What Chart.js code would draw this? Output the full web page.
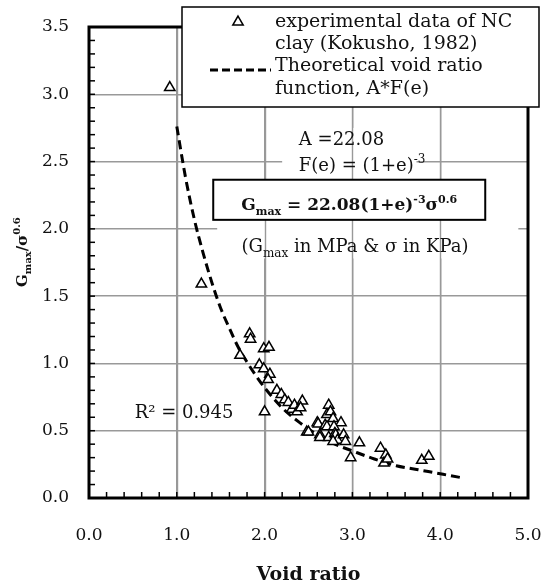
<!DOCTYPE html>
<html>
<head>
<meta charset="utf-8">
<script src="https://cdn.jsdelivr.net/npm/chart.js@4.4.0/dist/chart.umd.min.js"></script>
<style>
html, body { margin: 0; padding: 0; background: #fff; }
#wrap { width: 542px; height: 588px; }
</style>
</head>
<body>
<div id="wrap"><canvas id="gmaxChart" width="542" height="588"></canvas></div>
<script>
// Kokusho (1982) NC clay
var voidRatio = [0.92, 1.28, 1.83, 1.84, 1.72, 1.99, 2.05, 1.94, 1.99, 2.06, 2.04, 2.14, 2.19, 2.23, 2.27, 2.31,
    2.34, 2.37, 2.43, 2.41, 2.00, 2.48, 2.50, 2.60, 2.61, 2.63, 2.63, 2.73, 2.71, 2.75, 2.78, 2.69, 2.71,
    2.87, 2.79, 2.73, 2.80, 2.81, 2.83, 2.90, 2.92, 2.78, 2.98, 3.08, 3.32, 3.38, 3.36, 3.40, 3.79, 3.87];
var gmaxRatio = [3.05, 1.59, 1.22, 1.18, 1.06, 1.11, 1.12, 0.99, 0.96, 0.92, 0.88, 0.80, 0.77, 0.73, 0.71, 0.66,
    0.69, 0.64, 0.72, 0.67, 0.64, 0.49, 0.49, 0.56, 0.55, 0.47, 0.45, 0.69, 0.62, 0.64, 0.59, 0.54, 0.53,
    0.56, 0.53, 0.45, 0.48, 0.47, 0.43, 0.47, 0.42, 0.42, 0.30, 0.41, 0.37, 0.32, 0.26, 0.29, 0.28, 0.31];

// theoretical void ratio function A*F(e)
var curveVoid = [1.0, 1.1, 1.2, 1.3, 1.4, 1.5, 1.6, 1.7, 1.8, 1.9, 2.0, 2.2, 2.4, 2.6, 2.8, 3.0, 3.25, 3.5, 3.75, 4.0, 4.25];
var curveGmax = [2.76, 2.38, 2.07, 1.82, 1.60, 1.41, 1.26, 1.12, 1.01, 0.91, 0.82, 0.67, 0.56, 0.47, 0.40, 0.35, 0.29, 0.24, 0.21, 0.18, 0.15];

var legendLines = ['experimental data of NC', 'clay (Kokusho, 1982)', 'Theoretical void ratio', 'function, A*F(e)'];

var SERIF = '"DejaVu Serif", serif';
var INK = '#111';

function font(size, bold) {
    return (bold ? 'bold ' : '') + size + 'px ' + SERIF;
}

// segments: [text, kind] with kind n = normal, b = subscript, p = superscript
function richWidth(ctx, segs, size, bold) {
    var w = 0;
    segs.forEach(function(s) {
        ctx.font = font(s[1] === 'n' ? size : Math.round(size * 0.66), bold);
        w += ctx.measureText(s[0]).width;
    });
    return w;
}

function drawRich(ctx, segs, x, y, size, bold, center) {
    var cx = center ? x - richWidth(ctx, segs, size, bold) / 2 : x;
    segs.forEach(function(s) {
        ctx.font = font(s[1] === 'n' ? size : Math.round(size * 0.66), bold);
        var dy = s[1] === 'b' ? size * 0.3 : (s[1] === 'p' ? -size * 0.42 : 0);
        ctx.fillText(s[0], cx, y + dy);
        cx += ctx.measureText(s[0]).width;
    });
}

function gridV(chart) {
    var ctx = chart.ctx, a = chart.chartArea, x = chart.scales.x;
    ctx.strokeStyle = '#999';
    ctx.lineWidth = 1.4;
    for (var i = 1; i < 5; i++) {
        var p = Math.round(x.getPixelForValue(i)) + 0.5;
        ctx.beginPath();
        ctx.moveTo(p, a.top);
        ctx.lineTo(p, a.bottom);
        ctx.stroke();
    }
}

var decor = {
    id: 'decor',
    beforeDatasetsDraw: function(chart) {
        var ctx = chart.ctx, x = chart.scales.x, y = chart.scales.y;
        ctx.save();
        // text boxes hide the horizontal grid lines behind them
        ctx.fillStyle = '#fff';
        var l = x.getPixelForValue(2.2), t = y.getPixelForValue(2.75);
        ctx.fillRect(l, t, x.getPixelForValue(3.73) - l, y.getPixelForValue(2.37) - t);
        l = x.getPixelForValue(1.46); t = y.getPixelForValue(2.13);
        ctx.fillRect(l, t, x.getPixelForValue(4.89) - l, y.getPixelForValue(1.78) - t);
        gridV(chart);
        ctx.restore();
    },
    afterDraw: function(chart) {
        var ctx = chart.ctx, a = chart.chartArea, x = chart.scales.x, y = chart.scales.y;
        ctx.save();

        // minor ticks
        ctx.strokeStyle = '#000';
        ctx.lineWidth = 1.5;
        for (var i = 1; i < 35; i++) {
            var py = y.getPixelForValue(i / 10);
            ctx.beginPath(); ctx.moveTo(a.left, py); ctx.lineTo(a.left + 6, py); ctx.stroke();
        }
        for (var j = 1; j < 25; j++) {
            var px = x.getPixelForValue(j / 5);
            ctx.beginPath(); ctx.moveTo(px, a.bottom); ctx.lineTo(px, a.bottom - 6); ctx.stroke();
        }

        // plot frame
        ctx.lineWidth = 3;
        ctx.strokeRect(a.left, a.top, a.right - a.left, a.bottom - a.top);

        ctx.fillStyle = INK;
        ctx.textAlign = 'left';
        ctx.textBaseline = 'alphabetic';

        // A and F(e)
        ctx.font = font(18);
        ctx.fillText('A =22.08', x.getPixelForValue(2.39), y.getPixelForValue(2.62));
        drawRich(ctx, [['F(e) = (1+e)', 'n'], ['-3', 'p']], x.getPixelForValue(2.39), y.getPixelForValue(2.43), 18, false, false);

        // equation box
        var bl = x.getPixelForValue(1.415), bt = y.getPixelForValue(2.365);
        var bw = x.getPixelForValue(4.513) - bl, bh = y.getPixelForValue(2.067) - bt;
        ctx.fillStyle = '#fff';
        ctx.fillRect(bl, bt, bw, bh);
        ctx.strokeStyle = '#000';
        ctx.lineWidth = 2;
        ctx.strokeRect(bl, bt, bw, bh);
        ctx.fillStyle = INK;
        drawRich(ctx, [['G', 'n'], ['max', 'b'], [' = 22.08(1+e)', 'n'], ['-3', 'p'], ['σ', 'n'], ['0.6', 'p']],
            bl + bw / 2, y.getPixelForValue(2.14), 17, true, true);

        drawRich(ctx, [['(G', 'n'], ['max', 'b'], [' in MPa & σ in KPa)', 'n']],
            x.getPixelForValue(3.03), y.getPixelForValue(1.83), 18, false, true);

        ctx.font = font(18);
        ctx.fillText('R² = 0.945', x.getPixelForValue(0.52), y.getPixelForValue(0.598));

        // legend
        ctx.fillStyle = '#fff';
        ctx.fillRect(182, 7, 357, 100);
        ctx.strokeStyle = '#000';
        ctx.lineWidth = 1.5;
        ctx.strokeRect(182, 7, 357, 100);
        ctx.fillStyle = INK;
        ctx.font = font(19);
        legendLines.forEach(function(txt, k) {
            ctx.fillText(txt, 275, 27 + k * 22.2);
        });
        var ds0 = chart.data.datasets[0];
        ctx.fillStyle = '#fff';
        ctx.strokeStyle = '#000';
        ctx.lineWidth = ds0.pointBorderWidth;
        Chart.helpers.drawPoint(ctx, { pointStyle: 'triangle', radius: ds0.pointRadius, borderWidth: ds0.pointBorderWidth }, 238, 22);
        ctx.beginPath();
        ctx.setLineDash([8, 4]);
        ctx.lineWidth = 2.8;
        ctx.moveTo(210, 70);
        ctx.lineTo(271, 70);
        ctx.stroke();
        ctx.setLineDash([]);

        // axis titles
        ctx.fillStyle = INK;
        ctx.font = font(19, true);
        ctx.textAlign = 'center';
        ctx.fillText('Void ratio', (a.left + a.right) / 2, 580);
        ctx.textAlign = 'left';
        ctx.translate(26.5, 287);
        ctx.rotate(-Math.PI / 2);
        drawRich(ctx, [['G', 'n'], ['max', 'b'], ['/σ', 'n'], ['0.6', 'p']], 0, 0, 15, true, false);
        ctx.restore();
    }
};

var points = voidRatio.map(function(e, i) { return { x: e, y: gmaxRatio[i] }; });
var curve = curveVoid.map(function(e, i) { return { x: e, y: curveGmax[i] }; });

var gmaxCtx = document.getElementById('gmaxChart');
var gmaxChart = new Chart(gmaxCtx, {
    type: 'scatter',
    data: {
        datasets: [{
            label: 'experimental data of NC clay (Kokusho, 1982)',
            data: points,
            pointStyle: 'triangle',
            pointRadius: 6,
            pointBorderWidth: 1.5,
            borderColor: '#000',
            backgroundColor: '#fff',
            order: 0
        }, {
            type: 'line',
            label: 'Theoretical void ratio function, A*F(e)',
            data: curve,
            showLine: true,
            borderColor: '#000',
            borderWidth: 3,
            borderDash: [9, 5],
            pointRadius: 0,
            fill: false,
            cubicInterpolationMode: 'monotone',
            order: 1
        }]
    },
    options: {
        responsive: false,
        animation: false,
        devicePixelRatio: 1,
        layout: {
            padding: { top: 27, right: 14, left: 0, bottom: 0 }
        },
        plugins: {
            legend: { display: false },
            tooltip: { enabled: false }
        },
        scales: {
            x: {
                type: 'linear',
                min: 0,
                max: 5,
                ticks: {
                    stepSize: 1,
                    padding: 27,
                    color: INK,
                    font: { family: SERIF, size: 17 },
                    callback: function(v) { return v.toFixed(1); }
                },
                grid: { color: '#999', lineWidth: 1.4, drawTicks: false },
                border: { display: false },
                afterFit: function(s) { s.height = 90; s.paddingLeft = 0; s.paddingRight = 0; }
            },
            y: {
                min: 0,
                max: 3.5,
                ticks: {
                    stepSize: 0.5,
                    padding: 20,
                    color: INK,
                    font: { family: SERIF, size: 17 },
                    callback: function(v) { return v.toFixed(1); }
                },
                grid: { color: '#999', lineWidth: 1.4, drawTicks: false },
                border: { display: false },
                afterFit: function(s) { s.width = 89; s.paddingTop = 0; s.paddingBottom = 0; }
            }
        }
    },
    plugins: [decor]
});
</script>
</body>
</html>
